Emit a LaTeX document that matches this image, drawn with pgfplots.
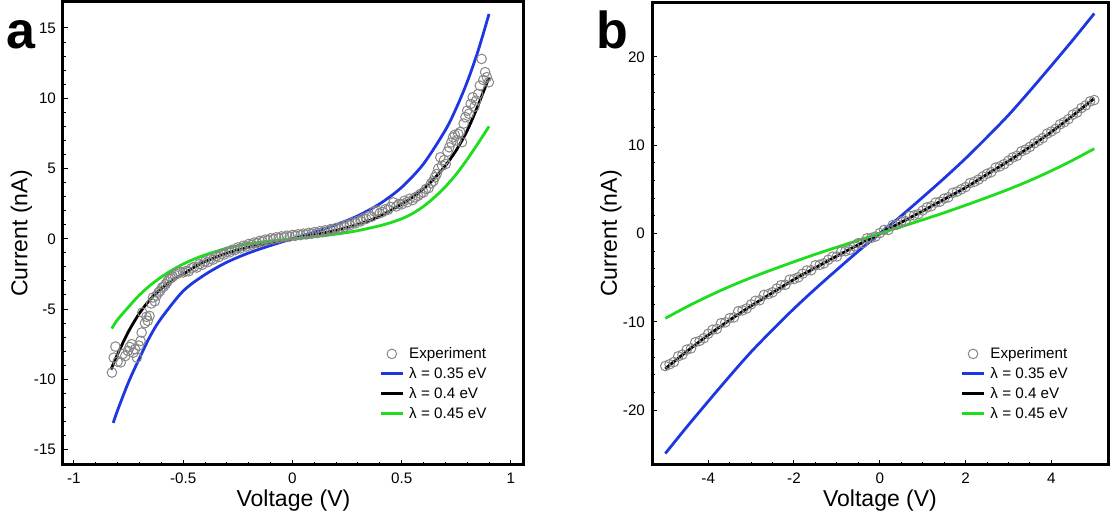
\documentclass[border=0pt]{standalone}
\usepackage{fontspec}
\setmainfont{Liberation Sans}
\usepackage{pgfplots}
\pgfplotsset{compat=1.18}
\definecolor{cblue}{RGB}{30,55,225}
\definecolor{cgreen}{RGB}{30,220,30}
\definecolor{cgray}{RGB}{135,135,135}

\tikzset{panellabel/.style={anchor=base west, inner sep=0pt, font=\fontsize{26}{28}\selectfont\bfseries}}
\pgfplotsset{
  expdata/.style={only marks, mark=o, color=cgray, mark size=2.4pt, mark options={draw=cgray, line width=0.5pt}},
  fitline/.style={no marks, smooth, line width=1.4pt},
  myaxis/.style={
    scale only axis,
    axis line style={line width=1.5pt},
    tick style={black, line width=0.5pt},
    major tick length=2.6pt,
    minor tick length=1.5pt,
    tick align=inside,
    xtick pos=left, ytick pos=left,
    ticklabel style={font=\fontsize{7.6}{9}\selectfont},
    /pgf/number format/assume math mode=true,
    xticklabel style={anchor=base, yshift=-9.5pt},
    every axis x label/.style={at={(axis description cs:0.5,-0.0907)}, anchor=base},
    every axis y label/.style={at={(axis description cs:-0.09,0.5)}, anchor=center, rotate=90},
    label style={font=\fontsize{11.5}{13}\selectfont},
    xlabel={Voltage (V)}, ylabel={Current (nA)},
    legend cell align=left,
    legend style={draw=none, fill=none, inner sep=0pt, row sep=0.5pt, column sep=1.5pt,
      font=\fontsize{7.6}{9}\selectfont, nodes={inner sep=1pt, text height=6pt, text depth=1.5pt}},
    legend image code/.code={\draw[mark repeat=2,mark phase=2,##1] plot coordinates {(0pt,0pt) (5.5pt,0pt) (11pt,0pt)};},
    clip=false,
  },
}

\begin{document}
\begin{tikzpicture}
\useasboundingbox (0,0) rectangle (557.5pt,262.5pt);
% ---------------- panel a ----------------
\begin{axis}[myaxis,
  at={(31.5pt,30pt)}, anchor=south west,
  width=230.5pt, height=231.5pt,
  xmin=-1.05, xmax=1.06, ymin=-16.1, ymax=16.85,
  xtick={-1,-0.5,0,0.5,1}, ytick={-15,-10,-5,0,5,10,15},
  minor x tick num=4, minor y tick num=4,
  legend style={at={(0.924,0.089)}, anchor=south east},
]
\addplot[expdata] coordinates {
(-0.826,-9.52) (-0.818,-8.46) (-0.810,-7.67) (-0.800,-8.75) (-0.786,-8.80) (-0.777,-8.20)
(-0.765,-8.35) (-0.753,-7.98) (-0.745,-7.70) (-0.736,-7.50) (-0.728,-8.10) (-0.720,-7.86)
(-0.712,-8.46) (-0.703,-7.60) (-0.695,-7.27) (-0.690,-6.67) (-0.687,-5.25) (-0.675,-6.00)
(-0.668,-5.55) (-0.662,-5.84) (-0.654,-5.49) (-0.646,-4.60) (-0.638,-4.18) (-0.630,-4.45)
(-0.622,-4.05) (-0.613,-3.82) (-0.605,-3.70) (-0.597,-3.47) (-0.589,-3.40) (-0.580,-3.23)
(-0.572,-3.05) (-0.564,-2.87) (-0.556,-2.80) (-0.548,-2.70) (-0.539,-2.57) (-0.531,-2.50)
(-0.523,-2.40) (-0.515,-2.35)
(-0.5,-2.40) (-0.4875,-2.30) (-0.475,-2.32) (-0.4625,-2.10) (-0.45,-2.00) (-0.4375,-2.05)
(-0.425,-1.80) (-0.4125,-1.85) (-0.4,-1.62) (-0.3875,-1.66) (-0.375,-1.45) (-0.3625,-1.48)
(-0.35,-1.25) (-0.3375,-1.30) (-0.325,-1.08) (-0.3125,-1.12) (-0.3,-0.93) (-0.2875,-0.97)
(-0.275,-0.78) (-0.2625,-0.80) (-0.25,-0.62) (-0.2375,-0.68) (-0.225,-0.50) (-0.2125,-0.55)
(-0.2,-0.37) (-0.1875,-0.42) (-0.175,-0.27) (-0.1625,-0.31) (-0.15,-0.15) (-0.1375,-0.20)
(-0.125,-0.06) (-0.1125,-0.10) (-0.1,0.03) (-0.0875,-0.03) (-0.075,0.10) (-0.0625,0.05)
(-0.05,0.17) (-0.0375,0.11) (-0.025,0.22) (-0.0125,0.16) (0,0.27) (0.0125,0.21)
(0.025,0.32) (0.0375,0.26) (0.05,0.37) (0.0625,0.31) (0.075,0.42) (0.0875,0.36)
(0.1,0.47) (0.1125,0.41) (0.125,0.54) (0.1375,0.48) (0.15,0.60) (0.1625,0.55)
(0.175,0.69) (0.1875,0.64) (0.2,0.77) (0.2125,0.73) (0.225,0.89) (0.2375,0.84)
(0.25,1.00) (0.2625,0.96) (0.275,1.15) (0.2875,1.10) (0.3,1.28) (0.3125,1.24)
(0.325,1.45) (0.3375,1.41) (0.35,1.62) (0.3625,1.57) (0.375,1.95) (0.3875,2.00)
(0.4,1.82) (0.4125,1.90) (0.425,2.10) (0.4375,2.06) (0.45,2.26) (0.4625,2.59)
(0.475,2.30) (0.4875,2.48) (0.5,2.45)
(0.513,2.71) (0.525,2.60) (0.537,2.85) (0.550,2.75) (0.562,2.95) (0.575,3.05)
(0.587,3.20) (0.600,3.30) (0.611,3.54) (0.623,3.60) (0.635,3.95) (0.645,4.10)
(0.652,4.37) (0.660,4.60) (0.668,5.00) (0.677,5.80) (0.685,5.20) (0.694,5.60)
(0.702,5.32) (0.710,6.20) (0.718,6.51) (0.727,6.85) (0.735,7.22) (0.743,7.40)
(0.751,7.00) (0.759,7.46) (0.768,7.60) (0.776,6.87) (0.784,8.20) (0.792,8.65)
(0.800,9.12) (0.808,8.90) (0.816,9.60) (0.825,10.07) (0.833,9.40) (0.841,9.83)
(0.850,10.30) (0.858,10.90) (0.866,12.80) (0.874,11.30) (0.882,11.86) (0.890,11.50)
(0.899,11.14)
};
\addlegendentry{Experiment}
\addplot[fitline, cblue] coordinates {
(-0.82,-13.1) (-0.8,-12.2) (-0.75,-10.2) (-0.7,-8.5) (-0.65,-6.9) (-0.6,-5.65) (-0.5,-3.72)
(-0.4,-2.55) (-0.3,-1.67) (-0.2,-1.01) (-0.1,-0.48) (0,0) (0.1,0.47) (0.2,1.0) (0.3,1.64)
(0.4,2.49) (0.5,3.66) (0.6,5.33) (0.7,7.73) (0.75,9.3) (0.8,11.16) (0.85,13.38) (0.9,16.0)
};
\addlegendentry{λ = 0.35 eV}
\addplot[fitline, black] coordinates {
(-0.83,-9.3) (-0.8,-8.2) (-0.75,-6.6) (-0.7,-5.3) (-0.65,-4.3) (-0.6,-3.55) (-0.55,-2.98)
(-0.5,-2.52) (-0.45,-2.02) (-0.4,-1.62) (-0.3,-1.02) (-0.2,-0.60) (-0.1,-0.28) (0,0)
(0.1,0.28) (0.2,0.60) (0.3,1.02) (0.4,1.6) (0.5,2.47) (0.55,2.95) (0.6,3.55) (0.65,4.3)
(0.7,5.2) (0.75,6.3) (0.8,7.7) (0.85,9.5) (0.9,11.5)
};
\addlegendentry{λ = 0.4 eV}
\addplot[fitline, cgreen] coordinates {
(-0.827,-6.39) (-0.8,-5.75) (-0.75,-4.85) (-0.7,-4.0) (-0.65,-3.3) (-0.6,-2.72) (-0.55,-2.22)
(-0.5,-1.8) (-0.45,-1.45) (-0.4,-1.15) (-0.3,-0.68) (-0.2,-0.36) (-0.1,-0.16) (0,0)
(0.1,0.15) (0.2,0.33) (0.3,0.58) (0.4,0.93) (0.45,1.15) (0.5,1.42) (0.55,1.8) (0.6,2.3)
(0.65,2.95) (0.7,3.7) (0.75,4.6) (0.8,5.65) (0.85,6.8) (0.9,8.0)
};
\addlegendentry{λ = 0.45 eV}
\node[panellabel] at (rel axis cs:-0.124,0.9006) {a};
\end{axis}
% ---------------- panel b ----------------
\begin{axis}[myaxis,
  at={(326pt,30pt)}, anchor=south west,
  width=228pt, height=231.5pt,
  xmin=-5.31, xmax=5.32, ymin=-26.2, ymax=26.2,
  xtick={-4,-2,0,2,4}, ytick={-20,-10,0,10,20},
  minor x tick num=3, minor y tick num=4,
  legend style={at={(0.917,0.089)}, anchor=south east},
]
\addplot[expdata] coordinates {
(-5.0,-15.0) (-4.9,-14.80) (-4.8,-14.55) (-4.7,-13.90) (-4.6,-13.70) (-4.5,-13.15)
(-4.4,-13.00) (-4.3,-12.30) (-4.2,-12.15) (-4.1,-11.85) (-4.0,-11.35) (-3.9,-10.90)
(-3.8,-10.80) (-3.7,-10.15) (-3.6,-10.05) (-3.5,-9.58) (-3.4,-9.50) (-3.3,-8.80)
(-3.2,-8.70) (-3.1,-8.48) (-3.0,-8.02) (-2.9,-7.62) (-2.8,-7.55) (-2.7,-6.95)
(-2.6,-6.86) (-2.5,-6.65) (-2.4,-6.22) (-2.3,-5.85) (-2.2,-5.80) (-2.1,-5.22)
(-2.0,-5.15) (-1.9,-4.96) (-1.8,-4.55) (-1.7,-4.19) (-1.6,-4.16) (-1.5,-3.60)
(-1.4,-3.54) (-1.3,-3.37) (-1.2,-2.97) (-1.1,-2.62) (-1.0,-2.60) (-0.9,-2.05)
(-0.8,-2.00) (-0.7,-1.84) (-0.6,-1.44) (-0.5,-1.10) (-0.4,-1.09) (-0.3,-0.55)
(-0.2,-0.50) (-0.1,-0.34) (0,0.05) (0.1,0.40) (0.2,0.40) (0.3,0.95)
(0.4,1.00) (0.5,1.35) (0.6,1.40) (0.7,1.99) (0.8,2.05) (0.9,2.20)
(1.0,2.60) (1.1,2.95) (1.2,3.10) (1.3,3.50) (1.4,3.60) (1.5,3.95)
(1.6,4.10) (1.7,4.60) (1.8,4.75) (1.9,5.00) (2.0,5.25) (2.1,5.70)
(2.2,5.85) (2.3,6.10) (2.4,6.45) (2.5,6.75) (2.6,6.95) (2.7,7.45)
(2.8,7.60) (2.9,7.85) (3.0,8.25) (3.1,8.60) (3.2,8.80) (3.3,9.30)
(3.4,9.50) (3.5,9.80) (3.6,10.20) (3.7,10.50) (3.8,10.80) (3.9,11.30)
(4.0,11.55) (4.1,11.85) (4.2,12.35) (4.3,12.60) (4.4,12.95) (4.5,13.45)
(4.6,13.70) (4.7,14.20) (4.8,14.50) (4.9,14.95) (5.0,15.10)
};
\addlegendentry{Experiment}
\addplot[fitline, cblue] coordinates {
(-5,-24.9) (-4.5,-21.9) (-4,-19.0) (-3.5,-16.15) (-3,-13.4) (-2.5,-10.9) (-2,-8.5)
(-1.5,-6.25) (-1,-4.1) (-0.5,-2.0) (0,0) (0.5,2.0) (1,4.1) (1.5,6.25) (2,8.5)
(2.5,10.9) (3,13.4) (3.5,16.15) (4,19.0) (4.5,21.9) (5,24.9)
};
\addlegendentry{λ = 0.35 eV}
\addplot[fitline, black] coordinates {
(-5,-15.3) (-4.5,-13.35) (-4,-11.5) (-3.5,-9.8) (-3,-8.2) (-2.5,-6.7) (-2,-5.2)
(-1.5,-3.87) (-1,-2.55) (-0.5,-1.27) (0,0) (0.5,1.27) (1,2.55) (1.5,3.87) (2,5.2)
(2.5,6.7) (3,8.2) (3.5,9.8) (4,11.5) (4.5,13.35) (5,15.3)
};
\addlegendentry{λ = 0.4 eV}
\addplot[fitline, cgreen] coordinates {
(-5,-9.6) (-4.5,-8.3) (-4,-7.1) (-3.5,-6.0) (-3,-5.0) (-2.5,-4.08) (-2,-3.2)
(-1.5,-2.35) (-1,-1.55) (-0.5,-0.77) (0,0) (0.5,0.77) (1,1.55) (1.5,2.35) (2,3.2)
(2.5,4.08) (3,5.0) (3.5,6.0) (4,7.1) (4.5,8.3) (5,9.6)
};
\addlegendentry{λ = 0.45 eV}
\node[panellabel] at (rel axis cs:-0.123,0.9006) {b};
\end{axis}
\end{tikzpicture}
\end{document}
